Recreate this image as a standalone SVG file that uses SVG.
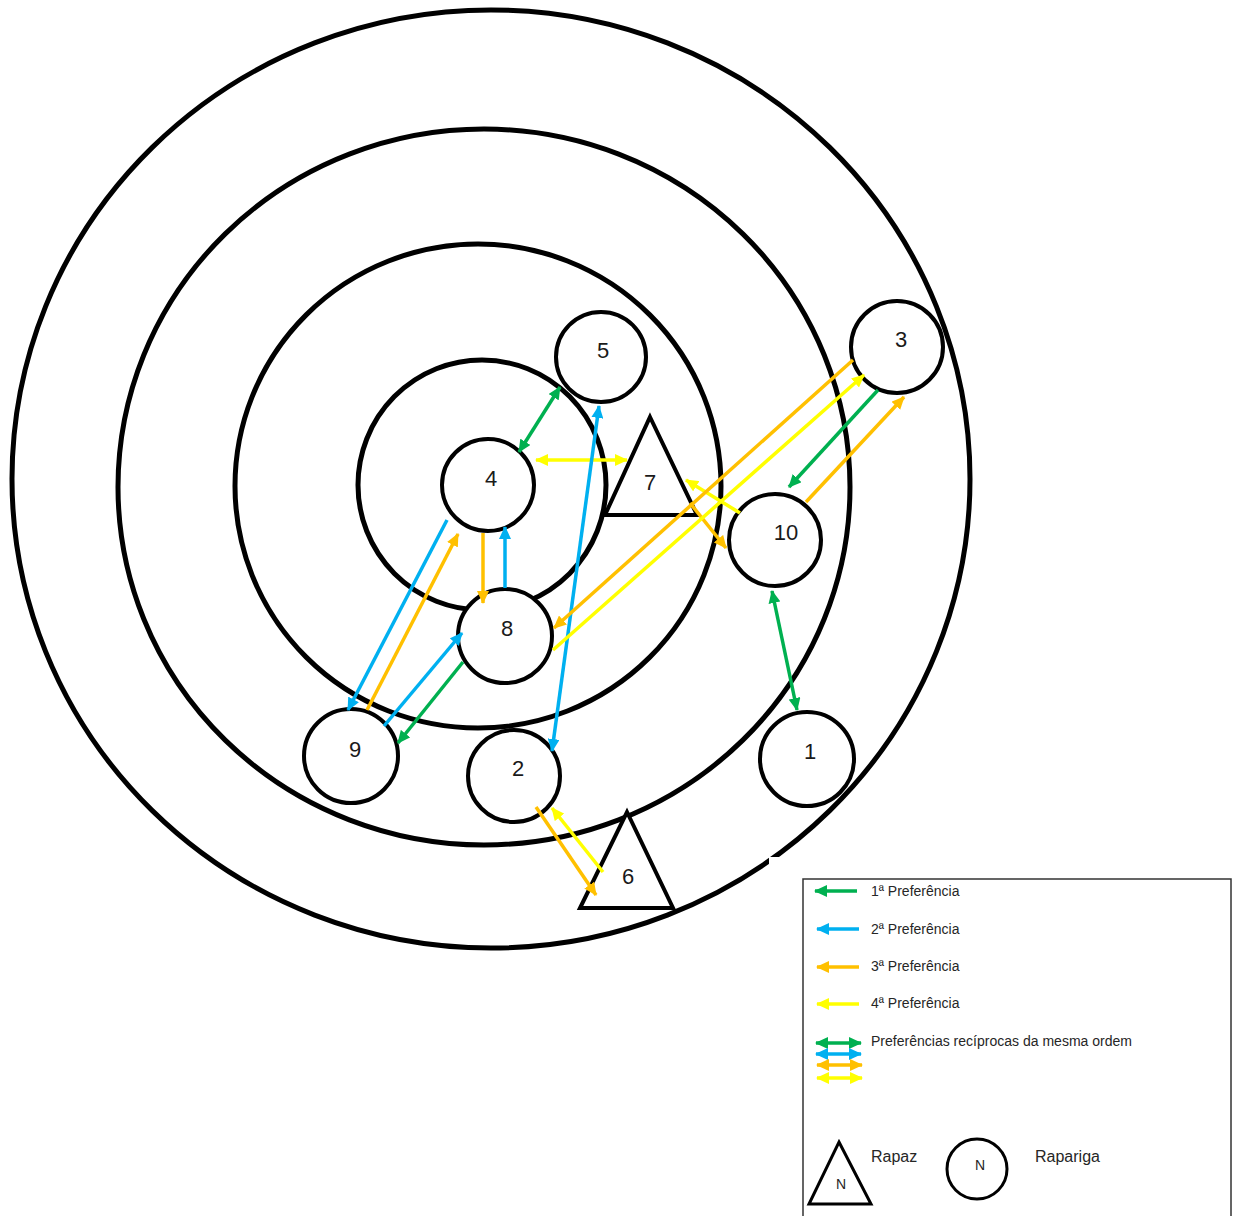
<svg xmlns="http://www.w3.org/2000/svg" width="1235" height="1216" viewBox="0 0 1235 1216">
<defs>
<style>
.ring{fill:none;stroke:#000;stroke-width:5}
.node{fill:#fff;stroke:#000;stroke-width:4}
.lbl{font-family:"Liberation Sans",Arial,sans-serif;font-size:22px;fill:#1a1a1a;text-anchor:middle}
.g{stroke:#00B050;stroke-width:3.5;fill:none}
.b{stroke:#00B0F0;stroke-width:3.5;fill:none}
.o{stroke:#FFC000;stroke-width:3.5;fill:none}
.y{stroke:#FFFF00;stroke-width:3.5;fill:none}
.gh{marker-end:url(#hg)}.gs{marker-start:url(#hg)}
.bh{marker-end:url(#hb)}.bs{marker-start:url(#hb)}
.oh{marker-end:url(#ho)}.os{marker-start:url(#ho)}
.yh{marker-end:url(#hy)}.ys{marker-start:url(#hy)}
.leg{font-family:"Liberation Sans",Arial,sans-serif;font-size:14px;fill:#262626}
.leg2{font-family:"Liberation Sans",Arial,sans-serif;font-size:16px;fill:#262626}
</style>
<marker id="hg" markerUnits="userSpaceOnUse" markerWidth="14" markerHeight="12" refX="12" refY="6" orient="auto-start-reverse"><path d="M0,0 L13,6 L0,12 Z" fill="#00B050"/></marker>
<marker id="hb" markerUnits="userSpaceOnUse" markerWidth="14" markerHeight="12" refX="12" refY="6" orient="auto-start-reverse"><path d="M0,0 L13,6 L0,12 Z" fill="#00B0F0"/></marker>
<marker id="ho" markerUnits="userSpaceOnUse" markerWidth="14" markerHeight="12" refX="12" refY="6" orient="auto-start-reverse"><path d="M0,0 L13,6 L0,12 Z" fill="#FFC000"/></marker>
<marker id="hy" markerUnits="userSpaceOnUse" markerWidth="14" markerHeight="12" refX="12" refY="6" orient="auto-start-reverse"><path d="M0,0 L13,6 L0,12 Z" fill="#FFFF00"/></marker>
</defs>
<rect width="1235" height="1216" fill="#fff"/>
<g id="rings">
<ellipse class="ring" cx="491" cy="479" rx="479" ry="469"/>
<ellipse class="ring" cx="484" cy="487" rx="366" ry="358"/>
<ellipse class="ring" cx="478" cy="486" rx="243" ry="242"/>
<ellipse class="ring" cx="482" cy="485" rx="124" ry="125"/>
</g>
<g id="node-5"><circle class="node" cx="601" cy="357" r="45"/><text class="lbl" x="603" y="358">5</text></g>
<g id="node-4"><circle class="node" cx="488" cy="485" r="46"/><text class="lbl" x="491" y="486">4</text></g>
<g id="node-7"><polygon class="node" points="650,417 697,515 605,515"/><text class="lbl" x="650" y="490">7</text></g>
<g id="node-3"><circle class="node" cx="897" cy="347" r="46"/><text class="lbl" x="901" y="347">3</text></g>
<g id="node-10"><circle class="node" cx="775" cy="540" r="46"/><text class="lbl" x="786" y="540">10</text></g>
<g id="node-8"><circle class="node" cx="505" cy="636" r="47"/><text class="lbl" x="507" y="636">8</text></g>
<g id="node-9"><circle class="node" cx="351" cy="756" r="47"/><text class="lbl" x="355" y="757">9</text></g>
<g id="node-2"><circle class="node" cx="514" cy="776" r="46"/><text class="lbl" x="518" y="776">2</text></g>
<g id="node-1"><circle class="node" cx="807" cy="759" r="47"/><text class="lbl" x="810" y="759">1</text></g>
<g id="node-6"><polygon class="node" points="627,812 673,908 580,908"/><text class="lbl" x="628" y="884">6</text></g>
<g id="connectors">
<line class="g gs gh" x1="560" y1="387" x2="519" y2="452"/>
<line class="y ys yh" x1="536" y1="460" x2="627" y2="460"/>
<line class="b bs bh" x1="552" y1="751" x2="599" y2="406"/>
<line class="y yh" x1="740" y1="513" x2="686" y2="480"/>
<line class="o oh" x1="690" y1="503" x2="726" y2="548"/>
<line class="o oh" x1="853" y1="360" x2="554" y2="628"/>
<line class="y yh" x1="553" y1="650" x2="864" y2="375"/>
<line class="g gh" x1="878" y1="390" x2="789" y2="487"/>
<line class="o oh" x1="806" y1="502" x2="904" y2="397"/>
<line class="g gs gh" x1="772" y1="591" x2="797" y2="710"/>
<line class="o oh" x1="483" y1="533" x2="483" y2="603"/>
<line class="b bh" x1="505" y1="588" x2="505" y2="527"/>
<line class="b bh" x1="447" y1="520" x2="348" y2="710"/>
<line class="o oh" x1="367" y1="710" x2="458" y2="534"/>
<line class="b bh" x1="384" y1="726" x2="462" y2="633"/>
<line class="g gh" x1="463" y1="662" x2="398" y2="743"/>
<line class="o oh" x1="536" y1="807" x2="596" y2="895"/>
<line class="y yh" x1="603" y1="872" x2="552" y2="808"/>
</g>
<g id="legend">
<rect x="769" y="857" width="466" height="359" fill="#fff"/>
<rect x="803" y="879" width="428" height="345" fill="#fff" stroke="#333" stroke-width="1.5"/>
<line class="g gs" x1="815" y1="891" x2="857" y2="891"/>
<line class="b bs" x1="817" y1="929" x2="859" y2="929"/>
<line class="o os" x1="817" y1="967" x2="859" y2="967"/>
<line class="y ys" x1="817" y1="1004" x2="859" y2="1004"/>
<text class="leg" x="871" y="896">1ª Preferência</text>
<text class="leg" x="871" y="934">2ª Preferência</text>
<text class="leg" x="871" y="971">3ª Preferência</text>
<text class="leg" x="871" y="1008">4ª Preferência</text>
<line class="g gs gh" x1="816" y1="1043" x2="861" y2="1043"/>
<line class="b bs bh" x1="816" y1="1054" x2="861" y2="1054"/>
<line class="o os oh" x1="817" y1="1065" x2="862" y2="1065"/>
<line class="y ys yh" x1="817" y1="1078" x2="862" y2="1078"/>
<text class="leg" x="871" y="1046" textLength="261" lengthAdjust="spacingAndGlyphs">Preferências recíprocas da mesma ordem</text>
<polygon points="839,1142 871,1204 809,1204" fill="#fff" stroke="#000" stroke-width="3"/>
<text class="leg" x="841" y="1189" text-anchor="middle">N</text>
<text class="leg2" x="871" y="1162">Rapaz</text>
<circle cx="977" cy="1169" r="30" fill="#fff" stroke="#000" stroke-width="3"/>
<text class="leg" x="980" y="1170" text-anchor="middle">N</text>
<text class="leg2" x="1035" y="1162">Rapariga</text>
</g>
</svg>
